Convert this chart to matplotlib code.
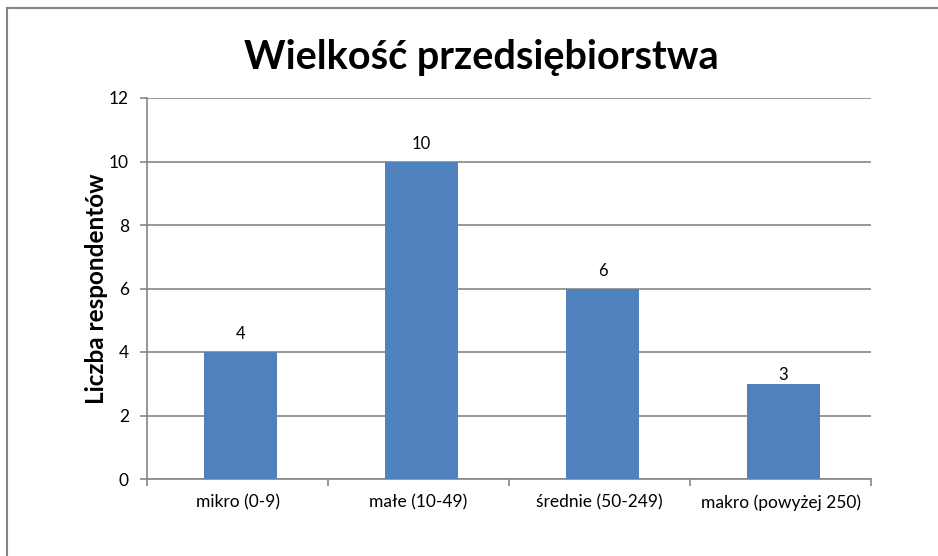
import matplotlib
matplotlib.use("Agg")
import matplotlib.pyplot as plt
from matplotlib.lines import Line2D

categories = ["mikro (0-9)", "małe (10-49)", "średnie (50-249)", "makro (powyżej 250)"]
counts = [4, 10, 6, 3]
y_ticks = [0, 2, 4, 6, 8, 10, 12]

BAR = "#4F81BD"
GRID = "#868686"
W, H = 938, 556

plt.rcParams["font.family"] = ["Lato", "DejaVu Sans"]

fig = plt.figure(figsize=(W / 100, H / 100), dpi=100)
ax = fig.add_axes([147 / W, 1 - 479 / H, (871 - 147) / W, (479 - 98) / H])

x = list(range(len(categories)))
ax.bar([xi + 0.017 for xi in x], counts, width=0.4, color=BAR, zorder=3)
# Excel squeezed the last label down onto its bar, keep that look
label_gap = [0.3, 0.3, 0.3, 0.02]
for xi, v, g in zip(x, counts, label_gap):
    ax.text(xi + 0.017, v + g, str(v), ha="center", va="bottom", fontsize=12)

ax.set_xlim(-0.5, len(categories) - 0.5)
ax.set_ylim(0, 12)
ax.set_yticks(y_ticks)
ax.set_yticklabels([str(t) for t in y_ticks], fontsize=12.5)
ax.yaxis.grid(True, color=GRID, linewidth=1.2, zorder=0)

# category labels sit between boundary ticks
ax.set_xticks([i - 0.5 for i in range(len(categories) + 1)])
ax.set_xticklabels([])
ax.set_xticks(x, minor=True)
ax.set_xticklabels(categories, minor=True, fontsize=12.5)
ax.tick_params(axis="x", which="minor", length=0, pad=11)
ax.tick_params(axis="x", which="major", length=5, color=GRID, width=1.2)
ax.tick_params(axis="y", length=5, color=GRID, width=1.2, pad=8)

for side in ("top", "right"):
    ax.spines[side].set_visible(False)
for side in ("left", "bottom"):
    ax.spines[side].set_color(GRID)
    ax.spines[side].set_linewidth(1.2)

ax.set_ylabel("Liczba respondentów", fontsize=17.5, fontweight="bold", labelpad=1)
fig.text(481 / W, 1 - 57 / H, "Wielkość przedsiębiorstwa", ha="center", va="center",
         fontsize=28.5, fontweight="bold")

# chart area border (top and left edges visible)
fig.add_artist(Line2D([7 / W, 1], [1 - 8 / H, 1 - 8 / H], color=GRID, linewidth=1.5))
fig.add_artist(Line2D([7 / W, 7 / W], [0, 1 - 8 / H], color=GRID, linewidth=1.5))

fig.savefig("out.png", dpi=100)
